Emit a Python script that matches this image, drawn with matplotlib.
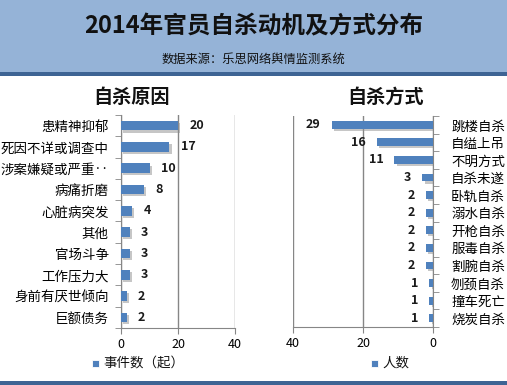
import matplotlib
matplotlib.use("Agg")
import matplotlib.pyplot as plt
import matplotlib.patheffects as pe
from matplotlib.patches import Rectangle

plt.rcParams['font.family'] = ['Noto Sans CJK SC', 'DejaVu Sans']

# data
reasons = ["患精神抑郁", "死因不详或调查中", "涉案嫌疑或严重‥", "病痛折磨", "心脏病突发",
           "其他", "官场斗争", "工作压力大", "身前有厌世倾向", "巨额债务"]
reason_counts = [20, 17, 10, 8, 4, 3, 3, 3, 2, 2]

methods = ["跳楼自杀", "自缢上吊", "不明方式", "自杀未遂", "卧轨自杀", "溺水自杀", "开枪自杀",
           "服毒自杀", "割腕自杀", "刎颈自杀", "撞车死亡", "烧炭自杀"]
method_counts = [29, 16, 11, 3, 2, 2, 2, 2, 2, 1, 1, 1]

W, H = 507, 385
BLUE = "#4F81BD"
GRID = "#868686"
shadow = [pe.SimplePatchShadow(offset=(1.5, -1.5), shadow_rgbFace="#8f8f8f", alpha=0.5), pe.Normal()]

fig = plt.figure(figsize=(W / 100, H / 100), dpi=100)

# header band
fig.patches.append(Rectangle((0, 1 - 72 / H), 1, 72 / H, transform=fig.transFigure,
                             facecolor="#95B3D7", edgecolor="none", zorder=0))
fig.patches.append(Rectangle((0, 1 - 76 / H), 1, 4 / H, transform=fig.transFigure,
                             facecolor="#3E6494", edgecolor="none", zorder=0))
fig.patches.append(Rectangle((0, 0), 1, 4 / H, transform=fig.transFigure,
                             facecolor="#3E6494", edgecolor="none", zorder=0))
fig.text(0.5, 1 - 26 / H, "2014年官员自杀动机及方式分布", ha="center", va="center",
         fontsize=17, fontweight="bold", color="#111111")
fig.text(0.5, 1 - 59 / H, "数据来源：乐思网络舆情监测系统", ha="center", va="center",
         fontsize=8.8, color="#111111")
fig.text(132 / W, 1 - 97 / H, "自杀原因", ha="center", va="center",
         fontsize=13.8, fontweight="bold", color="#111111")
fig.text(386 / W, 1 - 97 / H, "自杀方式", ha="center", va="center",
         fontsize=13.8, fontweight="bold", color="#111111")


def style_axis(ax, n, side):
    ax.set_ylim(n - 0.5, -0.5)
    ax.set_yticks(range(n))
    ax.set_yticks([i - 0.5 for i in range(n + 1)], minor=True)
    ax.tick_params(axis="y", which="major", length=0, labelsize=9.7, pad=9)
    ax.tick_params(axis="y", which="minor", length=4, color=GRID, direction="out")
    ax.tick_params(axis="x", length=4, color=GRID, labelsize=9, pad=3.5)
    ax.set_xticks([0, 20, 40])
    for s in ax.spines.values():
        s.set_visible(False)
    ax.spines["bottom"].set_visible(True)
    ax.spines["bottom"].set_color(GRID)
    ax.spines[side].set_visible(True)
    ax.spines[side].set_color(GRID)
    ax.xaxis.grid(True, color=GRID, lw=1)
    ax.set_axisbelow(True)


def add_legend(x, label):
    fig.patches.append(Rectangle((x / W, 1 - 367 / H), 7 / W, 7 / H, transform=fig.transFigure,
                                 facecolor=BLUE, edgecolor="white", lw=0.6))
    fig.text((x + 11) / W, 1 - 363 / H, label, ha="left", va="center", fontsize=9.7,
             color="#111111")


# left chart: reasons
axl = fig.add_axes([121 / W, 1 - 328 / H, 114 / W, 213 / H])
bars = axl.barh(range(len(reasons)), reason_counts, height=0.45, color=BLUE, zorder=3)
for b in bars:
    b.set_path_effects(shadow)
axl.set_xlim(0, 40)
style_axis(axl, len(reasons), "left")
axl.set_yticklabels(reasons)
for i, v in enumerate(reason_counts):
    axl.annotate(str(v), (v, i), xytext=(8, 0), textcoords="offset points", ha="left",
                 va="center", fontsize=9, fontweight="bold", color="#1a1a1a")
add_legend(92, "事件数（起）")

# right chart: methods
axr = fig.add_axes([293 / W, 1 - 327 / H, 140 / W, 211 / H])
bars = axr.barh(range(len(methods)), method_counts, height=0.45, color=BLUE, zorder=3)
for b in bars:
    b.set_path_effects(shadow)
axr.set_xlim(40, 0)
style_axis(axr, len(methods), "right")
axr.yaxis.tick_right()
axr.set_yticklabels(methods)
axr.tick_params(axis="y", which="major", pad=13)
for i, v in enumerate(method_counts):
    axr.annotate(str(v), (v, i), xytext=(-8, 0), textcoords="offset points", ha="right",
                 va="center", fontsize=9, fontweight="bold", color="#1a1a1a")
add_legend(371, "人数")

fig.savefig("out.png", dpi=100)
